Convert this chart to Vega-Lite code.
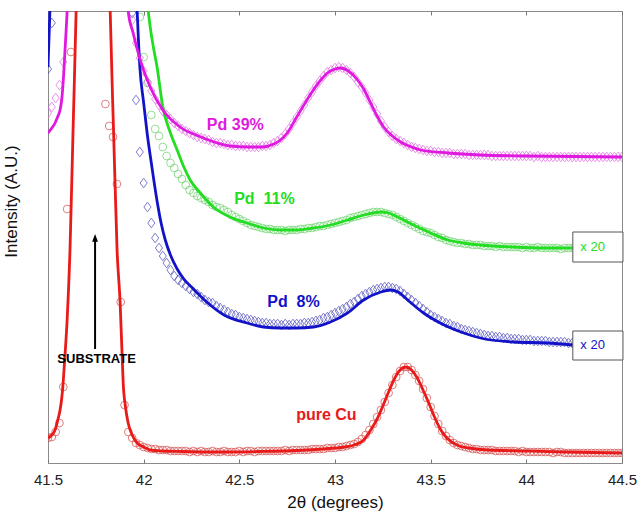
{
  "$schema": "https://vega.github.io/schema/vega-lite/v6.json",
  "width": 574,
  "height": 452,
  "autosize": {"type": "none"},
  "padding": {"left": 48, "top": 11, "right": 18, "bottom": 51},
  "background": "white",
  "config": {
    "view": {"stroke": "#8a8a8a", "strokeWidth": 1},
    "font": "Liberation Sans",
    "axis": {"grid": false}
  },
  "datasets": {
    "obs": [
      {"x":41.50,"cu":25,"p8":394,"p11":null,"p39":350},
      {"x":41.52,"cu":26,"p8":440,"p11":null,"p39":356},
      {"x":41.54,"cu":31,"p8":null,"p11":null,"p39":365},
      {"x":41.56,"cu":40,"p8":null,"p11":null,"p39":378},
      {"x":41.58,"cu":76,"p8":null,"p11":null,"p39":401},
      {"x":41.60,"cu":254,"p8":null,"p11":null,"p39":null},
      {"x":41.62,"cu":411,"p8":null,"p11":null,"p39":null},
      {"x":41.80,"cu":359,"p8":null,"p11":null,"p39":null},
      {"x":41.82,"cu":337,"p8":null,"p11":null,"p39":null},
      {"x":41.84,"cu":326,"p8":null,"p11":null,"p39":null},
      {"x":41.86,"cu":279,"p8":null,"p11":null,"p39":null},
      {"x":41.88,"cu":161,"p8":null,"p11":null,"p39":null},
      {"x":41.90,"cu":58,"p8":null,"p11":null,"p39":null},
      {"x":41.92,"cu":31,"p8":null,"p11":null,"p39":null},
      {"x":41.94,"cu":25,"p8":450,"p11":null,"p39":443},
      {"x":41.96,"cu":20,"p8":363,"p11":null,"p39":420},
      {"x":41.98,"cu":18,"p8":311,"p11":446,"p39":405},
      {"x":42.00,"cu":16,"p8":280,"p11":406,"p39":392},
      {"x":42.02,"cu":15,"p8":256,"p11":380,"p39":381},
      {"x":42.04,"cu":14,"p8":240,"p11":348,"p39":372},
      {"x":42.06,"cu":14,"p8":225,"p11":334,"p39":364},
      {"x":42.08,"cu":13,"p8":215,"p11":327,"p39":358},
      {"x":42.10,"cu":13,"p8":207,"p11":316,"p39":352},
      {"x":42.12,"cu":13,"p8":200,"p11":307,"p39":348},
      {"x":42.14,"cu":12,"p8":193,"p11":300,"p39":344},
      {"x":42.16,"cu":12,"p8":187,"p11":295,"p39":340},
      {"x":42.18,"cu":12,"p8":183,"p11":289,"p39":337},
      {"x":42.20,"cu":12,"p8":180,"p11":284,"p39":334},
      {"x":42.22,"cu":12,"p8":177,"p11":278,"p39":332},
      {"x":42.24,"cu":11,"p8":174,"p11":273,"p39":330},
      {"x":42.26,"cu":12,"p8":171,"p11":270,"p39":328},
      {"x":42.28,"cu":11,"p8":169,"p11":267,"p39":326},
      {"x":42.30,"cu":12,"p8":166,"p11":265,"p39":325},
      {"x":42.32,"cu":11,"p8":163,"p11":263,"p39":324},
      {"x":42.34,"cu":11,"p8":161,"p11":261,"p39":323},
      {"x":42.36,"cu":12,"p8":160,"p11":258,"p39":321},
      {"x":42.38,"cu":11,"p8":157,"p11":256,"p39":320},
      {"x":42.40,"cu":11,"p8":155,"p11":255,"p39":320},
      {"x":42.42,"cu":12,"p8":153,"p11":253,"p39":319},
      {"x":42.44,"cu":11,"p8":151,"p11":251,"p39":318},
      {"x":42.46,"cu":11,"p8":149,"p11":248,"p39":318},
      {"x":42.48,"cu":11,"p8":148,"p11":246,"p39":317},
      {"x":42.50,"cu":12,"p8":146,"p11":244,"p39":317},
      {"x":42.52,"cu":11,"p8":145,"p11":242,"p39":317},
      {"x":42.54,"cu":12,"p8":144,"p11":240,"p39":316},
      {"x":42.56,"cu":12,"p8":143,"p11":238,"p39":316},
      {"x":42.58,"cu":11,"p8":142,"p11":237,"p39":316},
      {"x":42.60,"cu":12,"p8":141,"p11":236,"p39":316},
      {"x":42.62,"cu":12,"p8":140,"p11":235,"p39":317},
      {"x":42.64,"cu":12,"p8":140,"p11":234,"p39":317},
      {"x":42.66,"cu":12,"p8":139,"p11":234,"p39":318},
      {"x":42.68,"cu":12,"p8":139,"p11":233,"p39":320},
      {"x":42.70,"cu":12,"p8":139,"p11":233,"p39":322},
      {"x":42.72,"cu":12,"p8":138,"p11":233,"p39":325},
      {"x":42.74,"cu":13,"p8":139,"p11":232,"p39":329},
      {"x":42.76,"cu":12,"p8":138,"p11":233,"p39":334},
      {"x":42.78,"cu":13,"p8":139,"p11":233,"p39":340},
      {"x":42.80,"cu":13,"p8":139,"p11":233,"p39":346},
      {"x":42.82,"cu":13,"p8":139,"p11":234,"p39":352},
      {"x":42.84,"cu":13,"p8":140,"p11":234,"p39":358},
      {"x":42.86,"cu":13,"p8":140,"p11":235,"p39":365},
      {"x":42.88,"cu":14,"p8":141,"p11":235,"p39":371},
      {"x":42.90,"cu":14,"p8":142,"p11":236,"p39":377},
      {"x":42.92,"cu":14,"p8":143,"p11":237,"p39":382},
      {"x":42.94,"cu":14,"p8":145,"p11":237,"p39":387},
      {"x":42.96,"cu":15,"p8":146,"p11":238,"p39":391},
      {"x":42.98,"cu":15,"p8":148,"p11":239,"p39":393},
      {"x":43.00,"cu":15,"p8":150,"p11":240,"p39":395},
      {"x":43.02,"cu":16,"p8":152,"p11":241,"p39":396},
      {"x":43.04,"cu":16,"p8":154,"p11":242,"p39":395},
      {"x":43.06,"cu":17,"p8":156,"p11":243,"p39":393},
      {"x":43.08,"cu":18,"p8":159,"p11":245,"p39":390},
      {"x":43.10,"cu":19,"p8":161,"p11":246,"p39":386},
      {"x":43.12,"cu":21,"p8":164,"p11":247,"p39":381},
      {"x":43.14,"cu":24,"p8":167,"p11":248,"p39":376},
      {"x":43.16,"cu":28,"p8":169,"p11":249,"p39":370},
      {"x":43.18,"cu":33,"p8":171,"p11":250,"p39":363},
      {"x":43.20,"cu":39,"p8":173,"p11":251,"p39":356},
      {"x":43.22,"cu":46,"p8":174,"p11":251,"p39":349},
      {"x":43.24,"cu":53,"p8":175,"p11":251,"p39":342},
      {"x":43.26,"cu":61,"p8":176,"p11":250,"p39":336},
      {"x":43.28,"cu":70,"p8":176,"p11":249,"p39":331},
      {"x":43.30,"cu":78,"p8":175,"p11":248,"p39":327},
      {"x":43.32,"cu":86,"p8":174,"p11":246,"p39":324},
      {"x":43.34,"cu":92,"p8":172,"p11":244,"p39":322},
      {"x":43.36,"cu":96,"p8":169,"p11":242,"p39":320},
      {"x":43.38,"cu":96,"p8":166,"p11":240,"p39":318},
      {"x":43.40,"cu":93,"p8":163,"p11":238,"p39":316},
      {"x":43.42,"cu":88,"p8":160,"p11":236,"p39":315},
      {"x":43.44,"cu":82,"p8":157,"p11":234,"p39":314},
      {"x":43.46,"cu":74,"p8":154,"p11":232,"p39":313},
      {"x":43.48,"cu":65,"p8":151,"p11":231,"p39":312},
      {"x":43.50,"cu":56,"p8":148,"p11":230,"p39":312},
      {"x":43.52,"cu":47,"p8":146,"p11":228,"p39":311},
      {"x":43.54,"cu":39,"p8":144,"p11":226,"p39":311},
      {"x":43.56,"cu":32,"p8":142,"p11":225,"p39":310},
      {"x":43.58,"cu":27,"p8":140,"p11":223,"p39":310},
      {"x":43.60,"cu":23,"p8":139,"p11":222,"p39":310},
      {"x":43.62,"cu":20,"p8":137,"p11":221,"p39":309},
      {"x":43.64,"cu":18,"p8":136,"p11":220,"p39":309},
      {"x":43.66,"cu":17,"p8":134,"p11":220,"p39":309},
      {"x":43.68,"cu":16,"p8":133,"p11":219,"p39":309},
      {"x":43.70,"cu":15,"p8":132,"p11":219,"p39":308},
      {"x":43.72,"cu":14,"p8":131,"p11":218,"p39":308},
      {"x":43.74,"cu":14,"p8":130,"p11":218,"p39":308},
      {"x":43.76,"cu":13,"p8":129,"p11":218,"p39":308},
      {"x":43.78,"cu":13,"p8":128,"p11":217,"p39":308},
      {"x":43.80,"cu":13,"p8":127,"p11":217,"p39":308},
      {"x":43.82,"cu":13,"p8":127,"p11":217,"p39":307},
      {"x":43.84,"cu":12,"p8":126,"p11":216,"p39":307},
      {"x":43.86,"cu":12,"p8":126,"p11":217,"p39":307},
      {"x":43.88,"cu":12,"p8":125,"p11":216,"p39":307},
      {"x":43.90,"cu":12,"p8":125,"p11":216,"p39":307},
      {"x":43.92,"cu":12,"p8":124,"p11":216,"p39":307},
      {"x":43.94,"cu":12,"p8":124,"p11":216,"p39":307},
      {"x":43.96,"cu":11,"p8":124,"p11":216,"p39":307},
      {"x":43.98,"cu":12,"p8":123,"p11":215,"p39":307},
      {"x":44.00,"cu":11,"p8":123,"p11":216,"p39":307},
      {"x":44.02,"cu":11,"p8":123,"p11":215,"p39":307},
      {"x":44.04,"cu":11,"p8":122,"p11":215,"p39":306},
      {"x":44.06,"cu":11,"p8":122,"p11":216,"p39":307},
      {"x":44.08,"cu":11,"p8":122,"p11":215,"p39":306},
      {"x":44.10,"cu":11,"p8":122,"p11":215,"p39":306},
      {"x":44.12,"cu":11,"p8":121,"p11":215,"p39":306},
      {"x":44.14,"cu":10,"p8":121,"p11":215,"p39":306},
      {"x":44.16,"cu":11,"p8":121,"p11":215,"p39":306},
      {"x":44.18,"cu":11,"p8":121,"p11":214,"p39":306},
      {"x":44.20,"cu":10,"p8":121,"p11":215,"p39":306},
      {"x":44.22,"cu":10,"p8":120,"p11":215,"p39":306},
      {"x":44.24,"cu":10,"p8":120,"p11":215,"p39":306},
      {"x":44.26,"cu":10,"p8":null,"p11":null,"p39":306},
      {"x":44.28,"cu":10,"p8":null,"p11":null,"p39":306},
      {"x":44.30,"cu":10,"p8":null,"p11":null,"p39":306},
      {"x":44.32,"cu":10,"p8":null,"p11":null,"p39":306},
      {"x":44.34,"cu":10,"p8":null,"p11":null,"p39":306},
      {"x":44.36,"cu":10,"p8":null,"p11":null,"p39":306},
      {"x":44.38,"cu":10,"p8":null,"p11":null,"p39":306},
      {"x":44.40,"cu":10,"p8":null,"p11":null,"p39":306},
      {"x":44.42,"cu":10,"p8":null,"p11":null,"p39":306},
      {"x":44.44,"cu":10,"p8":null,"p11":null,"p39":306},
      {"x":44.46,"cu":10,"p8":null,"p11":null,"p39":306},
      {"x":44.48,"cu":10,"p8":null,"p11":null,"p39":306},
      {"x":44.50,"cu":10,"p8":null,"p11":null,"p39":306}
    ],
    "fit": [
      {"s":"cu","x":41.5,"y":25},{"s":"cu","x":41.52,"y":28},{"s":"cu","x":41.537,"y":33},{"s":"cu","x":41.55,"y":42},
      {"s":"cu","x":41.563,"y":53},{"s":"cu","x":41.572,"y":65},{"s":"cu","x":41.579,"y":80},{"s":"cu","x":41.589,"y":108},
      {"s":"cu","x":41.6,"y":143},{"s":"cu","x":41.615,"y":213},{"s":"cu","x":41.631,"y":333},{"s":"cu","x":41.647,"y":452},
      {"s":"cu","x":41.665,"y":640},{"s":"cu","x":41.70,"y":1150},{"s":"cu","x":41.74,"y":1400},{"s":"cu","x":41.78,"y":1150},
      {"s":"cu","x":41.808,"y":640},{"s":"cu","x":41.825,"y":452},{"s":"cu","x":41.843,"y":330},{"s":"cu","x":41.861,"y":213},
      {"s":"cu","x":41.877,"y":160},{"s":"cu","x":41.886,"y":115},{"s":"cu","x":41.893,"y":80},{"s":"cu","x":41.905,"y":56},
      {"s":"cu","x":41.919,"y":40},{"s":"cu","x":41.94,"y":28},{"s":"cu","x":41.966,"y":20},{"s":"cu","x":42.0,"y":16},
      {"s":"cu","x":42.034,"y":13},{"s":"cu","x":42.1,"y":12},{"s":"cu","x":42.2,"y":11.5},{"s":"cu","x":42.4,"y":11},
      {"s":"cu","x":42.6,"y":11.5},{"s":"cu","x":42.8,"y":12.5},{"s":"cu","x":42.9,"y":13.5},{"s":"cu","x":43.0,"y":15},
      {"s":"cu","x":43.05,"y":16},{"s":"cu","x":43.1,"y":18},{"s":"cu","x":43.15,"y":23},{"s":"cu","x":43.19,"y":34},
      {"s":"cu","x":43.22,"y":44},{"s":"cu","x":43.25,"y":57},{"s":"cu","x":43.28,"y":71},{"s":"cu","x":43.31,"y":84},
      {"s":"cu","x":43.34,"y":93},{"s":"cu","x":43.37,"y":96},{"s":"cu","x":43.40,"y":93},{"s":"cu","x":43.43,"y":85},
      {"s":"cu","x":43.46,"y":73},{"s":"cu","x":43.49,"y":60},{"s":"cu","x":43.52,"y":46},{"s":"cu","x":43.55,"y":34},
      {"s":"cu","x":43.58,"y":26},{"s":"cu","x":43.61,"y":21},{"s":"cu","x":43.65,"y":17},{"s":"cu","x":43.70,"y":15},
      {"s":"cu","x":43.8,"y":13},{"s":"cu","x":44.0,"y":12},{"s":"cu","x":44.2,"y":11},{"s":"cu","x":44.5,"y":10},

      {"s":"p8","x":41.5,"y":396},{"s":"p8","x":41.51,"y":452},{"s":"p8","x":41.525,"y":560},{"s":"p8","x":41.6,"y":1000},
      {"s":"p8","x":41.75,"y":1300},{"s":"p8","x":41.9,"y":800},{"s":"p8","x":41.95,"y":530},{"s":"p8","x":41.966,"y":452},
      {"s":"p8","x":41.98,"y":396},{"s":"p8","x":42.0,"y":360},{"s":"p8","x":42.018,"y":330},{"s":"p8","x":42.04,"y":300},
      {"s":"p8","x":42.07,"y":262},{"s":"p8","x":42.09,"y":241},{"s":"p8","x":42.113,"y":223},{"s":"p8","x":42.14,"y":208},
      {"s":"p8","x":42.175,"y":194},{"s":"p8","x":42.21,"y":184},{"s":"p8","x":42.26,"y":174},{"s":"p8","x":42.33,"y":161},
      {"s":"p8","x":42.42,"y":148},{"s":"p8","x":42.54,"y":140},{"s":"p8","x":42.626,"y":136},{"s":"p8","x":42.715,"y":135},
      {"s":"p8","x":42.80,"y":135},{"s":"p8","x":42.887,"y":136},{"s":"p8","x":42.976,"y":141},{"s":"p8","x":43.065,"y":150},
      {"s":"p8","x":43.15,"y":163},{"s":"p8","x":43.24,"y":171},{"s":"p8","x":43.29,"y":173},{"s":"p8","x":43.33,"y":171},
      {"s":"p8","x":43.38,"y":163},{"s":"p8","x":43.463,"y":150},{"s":"p8","x":43.55,"y":140},{"s":"p8","x":43.673,"y":130},
      {"s":"p8","x":43.76,"y":125},{"s":"p8","x":43.935,"y":121},{"s":"p8","x":44.11,"y":120},{"s":"p8","x":44.243,"y":118},

      {"s":"p11","x":41.5,"y":560},{"s":"p11","x":41.6,"y":1000},{"s":"p11","x":41.75,"y":1400},{"s":"p11","x":41.9,"y":900},
      {"s":"p11","x":41.98,"y":560},{"s":"p11","x":42.0,"y":510},{"s":"p11","x":42.024,"y":452},{"s":"p11","x":42.047,"y":420},
      {"s":"p11","x":42.07,"y":396},{"s":"p11","x":42.10,"y":356},{"s":"p11","x":42.14,"y":330},{"s":"p11","x":42.175,"y":313},
      {"s":"p11","x":42.21,"y":296},{"s":"p11","x":42.243,"y":283},{"s":"p11","x":42.296,"y":270},{"s":"p11","x":42.364,"y":256},
      {"s":"p11","x":42.45,"y":246},{"s":"p11","x":42.54,"y":240},{"s":"p11","x":42.626,"y":235},{"s":"p11","x":42.715,"y":233},
      {"s":"p11","x":42.80,"y":233},{"s":"p11","x":42.887,"y":235},{"s":"p11","x":42.976,"y":238},{"s":"p11","x":43.065,"y":243},
      {"s":"p11","x":43.15,"y":248},{"s":"p11","x":43.24,"y":251},{"s":"p11","x":43.28,"y":250},{"s":"p11","x":43.327,"y":246},
      {"s":"p11","x":43.41,"y":238},{"s":"p11","x":43.50,"y":230},{"s":"p11","x":43.59,"y":223},{"s":"p11","x":43.67,"y":220},
      {"s":"p11","x":43.76,"y":218},{"s":"p11","x":43.93,"y":216},{"s":"p11","x":44.1,"y":215},{"s":"p11","x":44.243,"y":215},

      {"s":"p39","x":41.5,"y":330},{"s":"p39","x":41.52,"y":335},{"s":"p39","x":41.537,"y":340},{"s":"p39","x":41.55,"y":346},
      {"s":"p39","x":41.563,"y":353},{"s":"p39","x":41.572,"y":364},{"s":"p39","x":41.579,"y":380},{"s":"p39","x":41.589,"y":413},
      {"s":"p39","x":41.6,"y":452},{"s":"p39","x":41.62,"y":560},{"s":"p39","x":41.70,"y":1050},{"s":"p39","x":41.75,"y":1250},
      {"s":"p39","x":41.80,"y":1050},{"s":"p39","x":41.88,"y":600},{"s":"p39","x":41.919,"y":452},{"s":"p39","x":41.945,"y":430},
      {"s":"p39","x":41.982,"y":403},{"s":"p39","x":42.034,"y":376},{"s":"p39","x":42.10,"y":353},{"s":"p39","x":42.19,"y":336},
      {"s":"p39","x":42.30,"y":326},{"s":"p39","x":42.385,"y":320},{"s":"p39","x":42.45,"y":317},{"s":"p39","x":42.55,"y":316},
      {"s":"p39","x":42.62,"y":316},{"s":"p39","x":42.68,"y":319},{"s":"p39","x":42.715,"y":323},{"s":"p39","x":42.75,"y":330},
      {"s":"p39","x":42.80,"y":346},{"s":"p39","x":42.85,"y":362},{"s":"p39","x":42.887,"y":373},{"s":"p39","x":42.93,"y":384},
      {"s":"p39","x":42.96,"y":390},{"s":"p39","x":43.0,"y":394},{"s":"p39","x":43.03,"y":395},{"s":"p39","x":43.07,"y":392},
      {"s":"p39","x":43.118,"y":383},{"s":"p39","x":43.15,"y":374},{"s":"p39","x":43.186,"y":360},{"s":"p39","x":43.22,"y":347},
      {"s":"p39","x":43.254,"y":336},{"s":"p39","x":43.30,"y":327},{"s":"p39","x":43.343,"y":321},{"s":"p39","x":43.40,"y":316},
      {"s":"p39","x":43.448,"y":313},{"s":"p39","x":43.59,"y":310},{"s":"p39","x":43.76,"y":308},{"s":"p39","x":44.0,"y":307},
      {"s":"p39","x":44.5,"y":306}
    ],
    "labels": [
      {"s":"p39","x":42.479,"y":338,"t":"Pd 39%"},
      {"s":"p11","x":42.631,"y":264,"t":"Pd\u00a0 11%"},
      {"s":"p8","x":42.783,"y":161,"t":"Pd\u00a0 8%"},
      {"s":"cu","x":42.955,"y":48,"t":"pure Cu"}
    ],
    "substrate": [{"x":41.754,"y":104,"t":"SUBSTRATE"}],
    "arrow": [{"x":41.746,"y":114,"y2":224}],
    "boxes": [
      {"x":44.243,"x2":44.505,"y":201,"y2":231},
      {"x":44.243,"x2":44.505,"y":103,"y2":132}
    ],
    "scaleTags": [
      {"s":"p11","x":44.282,"y":216,"t":"x 20"},
      {"s":"p8","x":44.282,"y":118,"t":"x 20"}
    ]
  },
  "layer": [
    {
      "data": {"name": "obs"},
      "transform": [
        {"fold": ["cu", "p8", "p11", "p39"], "as": ["s", "v"]},
        {"filter": "isValid(datum.v)"}
      ],
      "mark": {"type": "point", "filled": false, "size": 60, "strokeWidth": 1, "clip": true},
      "encoding": {
        "x": {
          "field": "x", "type": "quantitative",
          "scale": {"domain": [41.5, 44.5], "nice": false, "zero": false},
          "axis": {
            "orient": "bottom", "title": "2θ (degrees)",
            "values": [41.5, 42, 42.5, 43, 43.5, 44, 44.5], "format": "~g",
            "domain": false, "tickSize": -4, "tickColor": "#777777", "labelFlush": false,
            "labelFontSize": 15, "labelColor": "#222222", "labelPadding": 13,
            "titleFontSize": 17, "titleFontWeight": "normal", "titleColor": "#111111",
            "titleY": 39, "titleBaseline": "middle"
          }
        },
        "y": {
          "field": "v", "type": "quantitative",
          "scale": {"domain": [0, 452], "nice": false, "zero": false},
          "axis": {
            "title": "Intensity (A.U.)", "labels": false, "ticks": false, "domain": false,
            "titleFontSize": 17, "titleFontWeight": "normal", "titleColor": "#111111",
            "titleAngle": -90, "titleX": -37, "titleY": 190, "titleAlign": "center", "titleBaseline": "middle"
          }
        },
        "stroke": {
          "field": "s", "type": "nominal", "legend": null,
          "scale": {"domain": ["cu", "p8", "p11", "p39"], "range": ["#d24a4a", "#4646bc", "#68d068", "#e066e0"]}
        },
        "shape": {
          "field": "s", "type": "nominal", "legend": null,
          "scale": {"domain": ["cu", "p8", "p11", "p39"],
                    "range": ["circle", "M0,-1.25L0.92,0L0,1.25L-0.92,0Z", "circle", "M0,-1.25L0.92,0L0,1.25L-0.92,0Z"]}
        }
      }
    },
    {
      "data": {"name": "fit"},
      "mark": {"type": "line", "strokeWidth": 2.8, "clip": true, "interpolate": "monotone"},
      "encoding": {
        "x": {
          "field": "x", "type": "quantitative",
          "axis": {"orient": "top", "labels": false, "title": null, "domain": false,
                   "values": [41.5, 42, 42.5, 43, 43.5, 44, 44.5], "tickSize": -4, "tickColor": "#777777"}
        },
        "y": {"field": "y", "type": "quantitative", "axis": null},
        "color": {
          "field": "s", "type": "nominal", "legend": null,
          "scale": {"domain": ["cu", "p8", "p11", "p39"], "range": ["#e81a1a", "#1212c8", "#22dd22", "#e019e0"]}
        },
        "detail": {"field": "s"}
      }
    },
    {
      "data": {"name": "labels"},
      "mark": {"type": "text", "fontSize": 16, "fontWeight": "bold", "align": "center", "baseline": "middle"},
      "encoding": {
        "x": {"field": "x", "type": "quantitative", "axis": null},
        "y": {"field": "y", "type": "quantitative", "axis": null},
        "color": {"field": "s", "type": "nominal", "legend": null},
        "text": {"field": "t"}
      }
    },
    {
      "data": {"name": "substrate"},
      "mark": {"type": "text", "fontSize": 13, "fontWeight": "bold", "align": "center", "baseline": "middle", "color": "#000000"},
      "encoding": {
        "x": {"field": "x", "type": "quantitative", "axis": null},
        "y": {"field": "y", "type": "quantitative", "axis": null},
        "text": {"field": "t"}
      }
    },
    {
      "data": {"name": "arrow"},
      "mark": {"type": "rule", "strokeWidth": 2, "color": "#000000"},
      "encoding": {
        "x": {"field": "x", "type": "quantitative", "axis": null},
        "y": {"field": "y", "type": "quantitative", "axis": null},
        "y2": {"field": "y2"}
      }
    },
    {
      "data": {"name": "arrow"},
      "mark": {"type": "point", "filled": true, "opacity": 1, "color": "#000000", "size": 60,
               "shape": "M0,-1.3L0.75,0.7L-0.75,0.7Z"},
      "encoding": {
        "x": {"field": "x", "type": "quantitative", "axis": null},
        "y": {"field": "y2", "type": "quantitative", "axis": null}
      }
    },
    {
      "data": {"name": "boxes"},
      "mark": {"type": "rect", "fill": "#ffffff", "stroke": "#555555", "strokeWidth": 1},
      "encoding": {
        "x": {"field": "x", "type": "quantitative", "axis": null},
        "x2": {"field": "x2"},
        "y": {"field": "y", "type": "quantitative", "axis": null},
        "y2": {"field": "y2"}
      }
    },
    {
      "data": {"name": "scaleTags"},
      "mark": {"type": "text", "fontSize": 13, "align": "left", "baseline": "middle"},
      "encoding": {
        "x": {"field": "x", "type": "quantitative", "axis": null},
        "y": {"field": "y", "type": "quantitative", "axis": null},
        "color": {"field": "s", "type": "nominal", "legend": null},
        "text": {"field": "t"}
      }
    }
  ],
  "resolve": {"axis": {"x": "independent", "y": "independent"}}
}
